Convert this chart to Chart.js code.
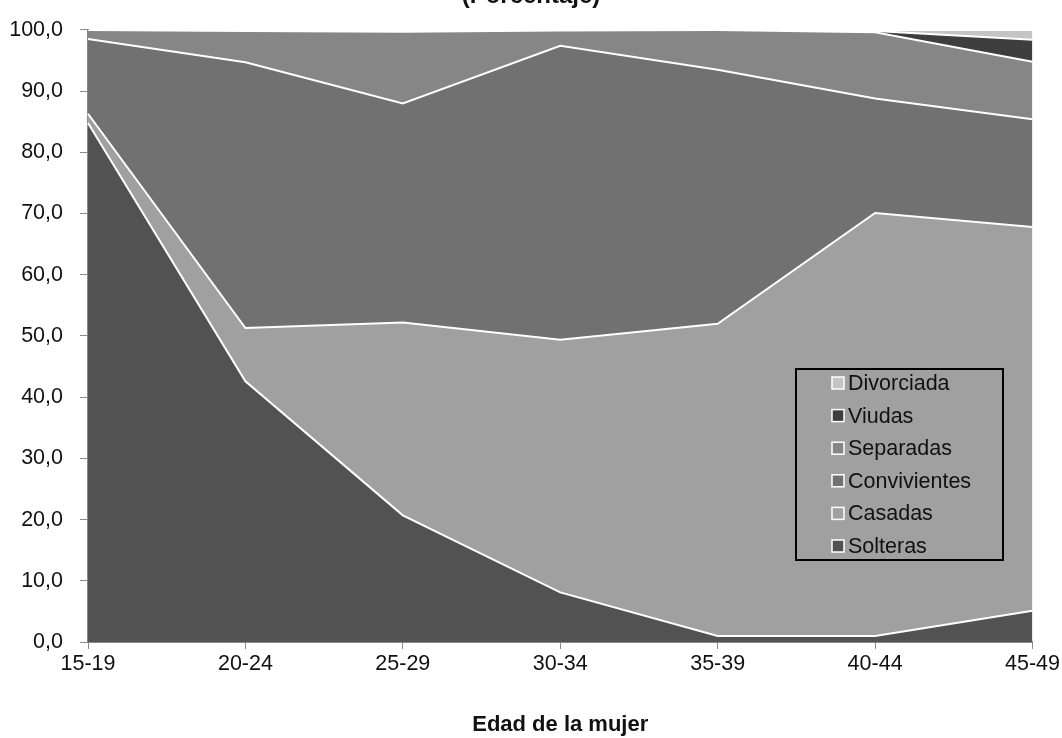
<!DOCTYPE html>
<html>
<head>
<meta charset="utf-8">
<script src="https://cdn.jsdelivr.net/npm/chart.js@4/dist/chart.umd.min.js"></script>
<style>
  html, body { margin: 0; padding: 0; background: #fff; }
  #wrap { position: relative; width: 1062px; height: 738px; }
</style>
</head>
<body>
<div id="wrap"><canvas id="chart" width="1062" height="738"></canvas></div>
<script>
// Edad de la mujer
const categories = ['15-19', '20-24', '25-29', '30-34', '35-39', '40-44', '45-49'];

// percentages per group (stacked)
const solteras     = [84.8, 42.6, 20.7,  8.1,  1.0,  1.0,  5.1];
const casadas      = [ 1.5,  8.7, 31.5, 41.3, 51.0, 69.1, 62.7];
const convivientes = [12.2, 43.4, 35.8, 48.0, 41.5, 18.7, 17.6];
const separadas    = [ 1.5,  5.1, 11.7,  2.5,  6.5, 10.8,  9.4];
const viudas       = [ 0.0,  0.0,  0.0,  0.0,  0.0,  0.2,  3.6];
const divorciada   = [ 0.0,  0.2,  0.3,  0.1,  0.0,  0.2,  1.6];

const yTicks = [0, 10, 20, 30, 40, 50, 60, 70, 80, 90, 100];

const FONT = "'Liberation Sans Narrow', 'Arial Narrow', 'Liberation Sans', sans-serif";

function area(label, data, color, first) {
    return {
        label: label,
        data: data,
        backgroundColor: color,
        borderColor: '#ffffff',
        borderWidth: 2,
        pointRadius: 0,
        tension: 0,
        fill: first ? 'origin' : '-1'
    };
}

// top title, only its lower half shows
const titlePlugin = {
    id: 'topTitle',
    afterDraw(chart) {
        const ctx = chart.ctx;
        ctx.save();
        ctx.font = 'bold 24px ' + FONT;
        ctx.fillStyle = '#111';
        ctx.textAlign = 'center';
        ctx.textBaseline = 'middle';
        ctx.fillText('(Porcentaje)', 531, -4);
        ctx.restore();
    }
};

// boxed legend inside the plot, reversed order
const legendBox = {
    id: 'legendBox',
    afterDraw(chart) {
        const ctx = chart.ctx;
        const x0 = 796, y0 = 369, w = 207, h = 191;
        ctx.save();
        ctx.strokeStyle = '#000';
        ctx.lineWidth = 2;
        ctx.strokeRect(x0, y0, w, h);
        ctx.font = '21.5px ' + FONT;
        ctx.textBaseline = 'middle';
        const sets = chart.data.datasets.slice().reverse();
        sets.forEach((ds, i) => {
            const cy = y0 + 14 + i * 32.6;
            ctx.fillStyle = ds.backgroundColor;
            ctx.fillRect(832, cy - 6, 12, 12);
            ctx.strokeStyle = '#fff';
            ctx.lineWidth = 1.5;
            ctx.strokeRect(832, cy - 6, 12, 12);
            ctx.fillStyle = '#111';
            ctx.fillText(ds.label, 848, cy + 1);
        });
        ctx.restore();
    }
};

new Chart(document.getElementById('chart').getContext('2d'), {
    type: 'line',
    data: {
        labels: categories,
        datasets: [
            area('Solteras', solteras, '#525252', true),
            area('Casadas', casadas, '#a0a0a0'),
            area('Convivientes', convivientes, '#717171'),
            area('Separadas', separadas, '#868686'),
            area('Viudas', viudas, '#3e3e3e'),
            area('Divorciada', divorciada, '#c4c4c4')
        ]
    },
    options: {
        responsive: false,
        animation: false,
        layout: { padding: { left: 0, right: 29, top: 14, bottom: 0 } },
        plugins: {
            legend: { display: false },
            tooltip: { enabled: false }
        },
        scales: {
            x: {
                offset: false,
                grid: { drawOnChartArea: false, drawTicks: true, tickLength: 7, color: '#8a8a8a' },
                border: { display: true, color: '#8a8a8a', width: 2 },
                ticks: { color: '#111', font: { family: FONT, size: 21.5 }, padding: 2, maxRotation: 0 },
                title: {
                    display: true,
                    text: 'Edad de la mujer',
                    color: '#111',
                    font: { family: FONT, size: 22, weight: 'bold' },
                    padding: { top: 20, bottom: 0 }
                },
                afterFit(scale) { scale.height = 96; }
            },
            y: {
                stacked: true,
                min: 0,
                max: 100,
                afterBuildTicks(scale) { scale.ticks = yTicks.map(v => ({ value: v })); },
                grid: { drawOnChartArea: false, drawTicks: true, tickLength: 8, color: '#8a8a8a' },
                border: { display: true, color: '#8a8a8a', width: 2 },
                ticks: {
                    color: '#111',
                    font: { family: FONT, size: 21.5 },
                    padding: 17,
                    callback: v => v.toFixed(1).replace('.', ',')
                },
                afterFit(scale) { scale.width = 88; }
            }
        }
    },
    plugins: [titlePlugin, legendBox]
});
</script>
</body>
</html>
